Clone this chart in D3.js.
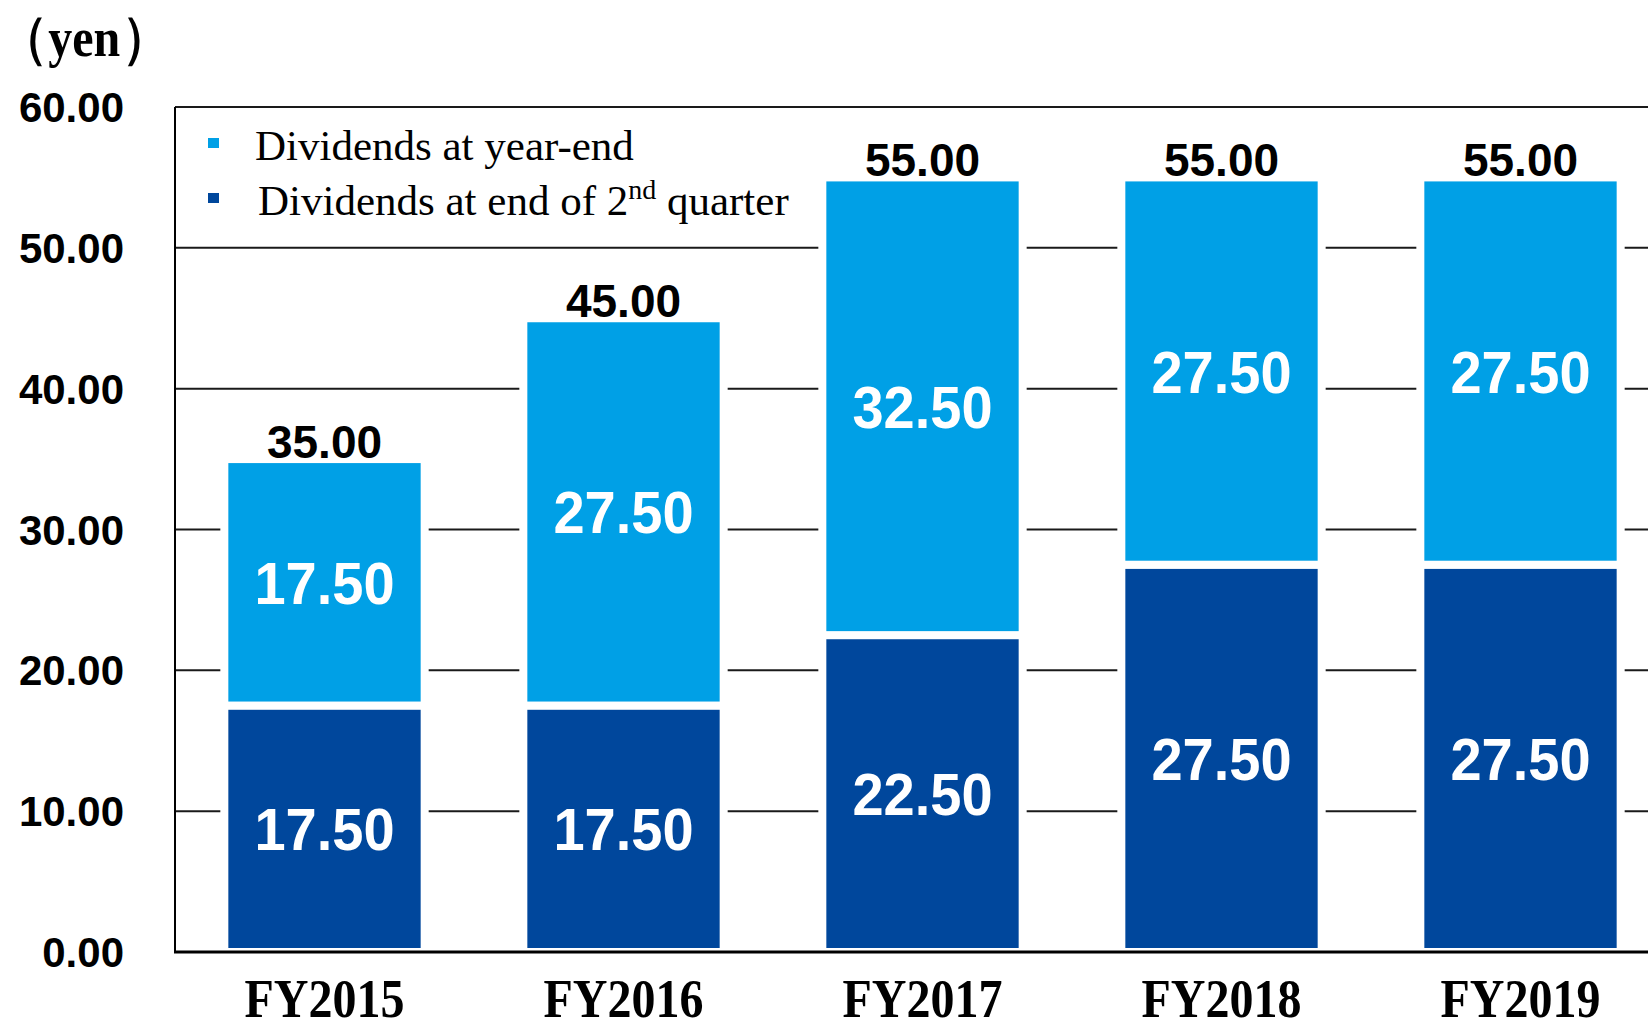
<!DOCTYPE html>
<html>
<head>
<meta charset="utf-8">
<script src="https://cdn.jsdelivr.net/npm/d3@7"></script>
<style>
  html, body { margin: 0; padding: 0; background: #fff; }
  svg { display: block; }
</style>
</head>
<body>
<svg id="chart" width="1648" height="1030"></svg>
<script>
// 年度と配当データ
const years = ["FY2015", "FY2016", "FY2017", "FY2018", "FY2019"];
const secondQuarter = [17.5, 17.5, 22.5, 27.5, 27.5];
const yearEnd = [17.5, 27.5, 32.5, 27.5, 27.5];
const yTicks = [0, 10, 20, 30, 40, 50, 60];
const seriesKeys = ["q2", "ye"];
const seriesNames = ["Dividends at year-end", "Dividends at end of 2nd quarter"];

const colors = { q2: "#00479c", ye: "#00a0e6" };

const svg = d3.select("#chart");

// 描画領域
const plotLeft = 175, plotRight = 1670, plotTop = 107, plotBottom = 952;

const x = d3.scaleBand()
    .domain(years)
    .range([plotLeft, plotRight])
    .paddingInner(0.33)
    .paddingOuter(0.165);

const y = d3.scaleLinear()
    .domain([0, 60])
    .range([plotBottom, plotTop]);

const rows = years.map(function(yr, i) {
    return { year: yr, q2: secondQuarter[i], ye: yearEnd[i] };
});
const stacked = d3.stack().keys(seriesKeys)(rows);

// 目盛り線
svg.append("g")
    .selectAll("line")
    .data(yTicks.filter(function(t) { return t > 0 && t < 60; }))
    .join("line")
    .attr("x1", plotLeft)
    .attr("x2", plotRight)
    .attr("y1", function(d) { return y(d); })
    .attr("y2", function(d) { return y(d); })
    .style("stroke", "#1a1a1a")
    .style("stroke-width", 2);

// 上枠
svg.append("line")
    .attr("x1", plotLeft).attr("x2", plotRight)
    .attr("y1", y(60)).attr("y2", y(60))
    .style("stroke", "#1a1a1a")
    .style("stroke-width", 2);

// 棒（白い縁取りで目盛り線を切る）
svg.append("g")
    .selectAll("g")
    .data(stacked)
    .join("g")
    .style("fill", function(d) { return colors[d.key]; })
    .selectAll("rect")
    .data(function(d) { return d; })
    .join("rect")
    .attr("x", function(d) { return x(d.data.year); })
    .attr("width", x.bandwidth())
    .attr("y", function(d) { return y(d[1]); })
    .attr("height", function(d) { return y(d[0]) - y(d[1]); })
    .style("stroke", "#fff")
    .style("stroke-width", 8);

// Y軸・X軸の線
svg.append("line")
    .attr("x1", plotLeft).attr("x2", plotLeft)
    .attr("y1", y(60)).attr("y2", plotBottom)
    .style("stroke", "#000")
    .style("stroke-width", 2);
svg.append("line")
    .attr("x1", plotLeft - 1).attr("x2", plotRight)
    .attr("y1", plotBottom).attr("y2", plotBottom)
    .style("stroke", "#000")
    .style("stroke-width", 3);

// Y軸ラベル
svg.append("g")
    .selectAll("text")
    .data(yTicks)
    .join("text")
    .attr("x", 124)
    .attr("y", function(d) { return y(d); })
    .attr("dy", "0.36em")
    .attr("text-anchor", "end")
    .style("font-family", "'Liberation Sans', Arial, sans-serif")
    .style("font-weight", "bold")
    .style("font-size", "42px")
    .style("fill", "#000")
    .text(function(d) { return d3.format(".2f")(d); });

// X軸ラベル（元図は縦に少し伸びている）
svg.append("g")
    .selectAll("text")
    .data(years)
    .join("text")
    .attr("transform", function(d) {
        return "translate(" + (x(d) + x.bandwidth() / 2) + ",1017) scale(1,1.15)";
    })
    .attr("text-anchor", "middle")
    .style("font-family", "'Liberation Serif', 'Times New Roman', serif")
    .style("font-weight", "bold")
    .style("font-size", "48px")
    .style("fill", "#000")
    .text(function(d) { return d; });

// 棒内の値ラベル
svg.append("g")
    .selectAll("g")
    .data(stacked)
    .join("g")
    .selectAll("text")
    .data(function(d) { return d; })
    .join("text")
    .attr("transform", function(d) {
        return "translate(" + (x(d.data.year) + x.bandwidth() / 2) + "," + y((d[0] + d[1]) / 2) + ") scale(1,1.07)";
    })
    .attr("dy", "0.36em")
    .attr("text-anchor", "middle")
    .style("font-family", "'Liberation Sans', Arial, sans-serif")
    .style("font-weight", "bold")
    .style("font-size", "56px")
    .style("fill", "#fff")
    .text(function(d) { return d3.format(".2f")(d[1] - d[0]); });

// 合計ラベル
svg.append("g")
    .selectAll("text")
    .data(rows)
    .join("text")
    .attr("x", function(d) { return x(d.year) + x.bandwidth() / 2; })
    .attr("y", function(d) { return y(d.q2 + d.ye) - 1; })
    .attr("text-anchor", "middle")
    .style("font-family", "'Liberation Sans', Arial, sans-serif")
    .style("font-weight", "bold")
    .style("font-size", "46px")
    .style("fill", "#000")
    .text(function(d) { return d3.format(".2f")(d.q2 + d.ye); });

// 単位
const unit = svg.append("text")
    .attr("transform", "translate(0,56) scale(1,1.15)")
    .style("font-family", "'Liberation Serif', 'Times New Roman', serif")
    .style("font-weight", "bold")
    .style("font-size", "48px")
    .style("fill", "#000");
unit.append("tspan").text("（");
unit.append("tspan").text("yen");
unit.append("tspan").attr("dx", 2).text("）");

// 凡例
const legend = svg.append("g");
const legendRows = [
    { key: "ye", name: seriesNames[0], tx: 255, ty: 160 },
    { key: "q2", name: seriesNames[1], tx: 258, ty: 215 }
];
legend.selectAll("rect")
    .data(legendRows)
    .join("rect")
    .attr("x", 208)
    .attr("y", function(d) { return d.ty - 22; })
    .attr("width", 11)
    .attr("height", 10)
    .style("fill", function(d) { return colors[d.key]; });

const lt = legend.selectAll("text")
    .data(legendRows)
    .join("text")
    .attr("x", function(d) { return d.tx; })
    .attr("y", function(d) { return d.ty; })
    .style("font-family", "'Liberation Serif', 'Times New Roman', serif")
    .style("font-size", "43px")
    .style("fill", "#000");

lt.filter(function(d) { return d.key === "ye"; }).text(function(d) { return d.name; });
const q2text = lt.filter(function(d) { return d.key === "q2"; });
q2text.append("tspan").text("Dividends at end of 2");
q2text.append("tspan").attr("dy", -16).style("font-size", "28px").text("nd");
q2text.append("tspan").attr("dy", 16).text(" quarter");
</script>
</body>
</html>
